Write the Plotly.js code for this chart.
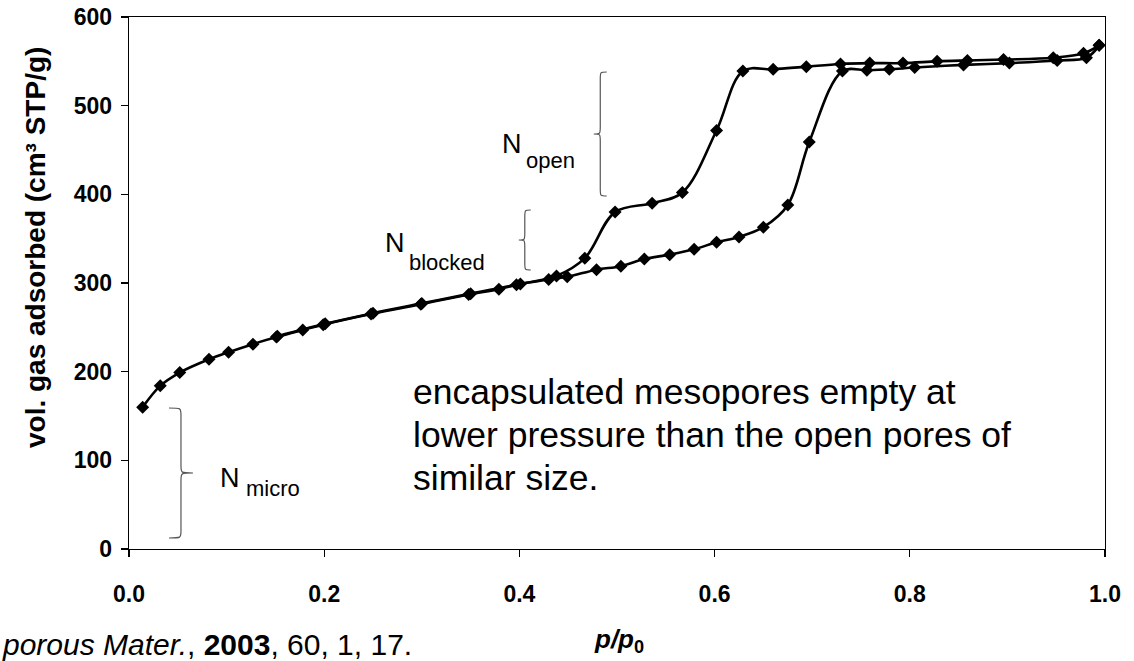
<!DOCTYPE html>
<html><head><meta charset="utf-8">
<script src="https://cdn.plot.ly/plotly-3.0.1.min.js"></script>
<style>html,body{margin:0;padding:0;background:#fff;}#chart{width:1134px;height:661px;}</style>
</head><body><div id="chart"></div>
<script>
// Adsorption branch (p/p0, cm3 STP/g)
const adsP = [0.014,0.032,0.052,0.082,0.102,0.127,0.151,0.178,0.199,0.248,0.299,0.348,0.379,0.397,0.430,0.449,0.479,0.504,0.528,0.554,0.579,0.602,0.625,0.650,0.675,0.697,0.731,0.756,0.779,0.805,0.855,0.902,0.951,0.981,0.994];
const adsV = [160,184,199,214,222,231,239,247,253,265,276,287,293,298,304,307,315,319,327,332,338,346,352,363,388,459,539,540,541,543,546,548,551,554,568];
// Desorption branch
const desP = [0.152,0.201,0.250,0.300,0.350,0.401,0.438,0.467,0.498,0.536,0.567,0.602,0.629,0.660,0.694,0.729,0.759,0.793,0.828,0.859,0.896,0.947,0.978,0.994];
const desV = [240,254,266,277,288,299,308,328,380,390,402,472,539,541,544,547,548,548,550,551,552,554,559,568];
// Axis ticks
const xTickVals = [0,0.2,0.4,0.6,0.8,1.0];
const xTickText = ['0.0','0.2','0.4','0.6','0.8','1.0'];
const yTickVals = [0,100,200,300,400,500,600];
// Texts
const noteLines = ['encapsulated mesopores empty at', 'lower pressure than the open pores of', 'similar size.'];

const FONT = 'Liberation Sans, Arial, Helvetica, sans-serif';
const W = 1134, H = 661, L = 129, R = 1105.5, T = 17, B = 549;
const px = v => (v - L) / (R - L);
const py = v => (B - v) / (B - T);

function brace(xEnd, xTip, yTop, yBot, yMid) {
  const xs = (xEnd + xTip) / 2, d = 7;
  const P = (x, y) => px(x).toFixed(5) + ',' + py(y).toFixed(5);
  return 'M' + P(xEnd, yTop) +
    ' C' + P(xs, yTop) + ' ' + P(xs, yTop) + ' ' + P(xs, yTop + d) +
    ' L' + P(xs, yMid - d) +
    ' C' + P(xs, yMid) + ' ' + P(xs, yMid) + ' ' + P(xTip, yMid) +
    ' C' + P(xs, yMid) + ' ' + P(xs, yMid) + ' ' + P(xs, yMid + d) +
    ' L' + P(xs, yBot - d) +
    ' C' + P(xs, yBot) + ' ' + P(xs, yBot) + ' ' + P(xEnd, yBot);
}
const braceLine = {color: '#555', width: 1.2};
const shapes = [
  {type: 'path', xref: 'paper', yref: 'paper', path: brace(607, 594, 72, 196, 134), line: braceLine},
  {type: 'path', xref: 'paper', yref: 'paper', path: brace(531, 519, 210, 270, 240), line: braceLine},
  {type: 'path', xref: 'paper', yref: 'paper', path: brace(169, 193, 408, 538, 473), line: braceLine}
];

function lbl(text, x, y, size, extra) {
  return Object.assign({text: text, xref: 'paper', yref: 'paper', x: px(x), y: py(y),
    xanchor: 'left', yanchor: 'middle', showarrow: false,
    font: {family: FONT, size: size, color: '#000'}}, extra || {});
}
const annotations = [
  lbl('N', 500, 143.5, 27), lbl('open', 524, 160, 22),
  lbl('N', 383, 242.5, 27), lbl('blocked', 407, 262, 22),
  lbl('N', 218, 477.5, 27), lbl('micro', 244, 488, 22),
  lbl(noteLines[0], 411, 392, 35.5),
  lbl(noteLines[1], 411, 435, 35.5),
  lbl(noteLines[2], 411, 478, 35.5),
  lbl('<b><i>p/p</i><sub>0</sub></b>', 592, 640, 26),
  lbl('<i>porous Mater.</i>, <b>2003</b>, 60, 1, 17.', 0, 644, 30),
  {text: '<b>vol. gas adsorbed (cm³ STP/g)</b>', xref: 'paper', yref: 'paper', x: px(35), y: py(248),
   xanchor: 'center', yanchor: 'middle', textangle: -90, showarrow: false,
   font: {family: FONT, size: 28, color: '#000'}}
];

const common = {mode: 'lines+markers', line: {color: '#000', width: 2.6, shape: 'spline', smoothing: 1},
  marker: {symbol: 'diamond', size: 10, color: '#000'}, hoverinfo: 'x+y', showlegend: false, cliponaxis: false};
const traces = [
  Object.assign({x: adsP, y: adsV, name: 'adsorption'}, common),
  Object.assign({x: desP, y: desV, name: 'desorption'}, common)
];

const axisCommon = {showgrid: false, zeroline: false, showline: true, mirror: true, linecolor: '#000', linewidth: 1.3,
  ticks: 'outside', ticklen: 7, tickwidth: 1.3, tickcolor: '#000',
  tickfont: {family: FONT, size: 23, color: '#000', weight: 'bold'}};
const layout = {
  width: W, height: H, paper_bgcolor: '#fff', plot_bgcolor: '#fff',
  margin: {l: L, r: W - R, t: T, b: H - B, pad: 0},
  xaxis: Object.assign({range: [0, 1], tickmode: 'array', tickvals: xTickVals, ticktext: xTickText, ticklabelstandoff: 17}, axisCommon),
  yaxis: Object.assign({range: [0, 600], tickmode: 'array', tickvals: yTickVals, ticklabelstandoff: 4}, axisCommon),
  shapes: shapes, annotations: annotations, showlegend: false
};
Plotly.newPlot('chart', traces, layout, {staticPlot: true, displayModeBar: false});
</script></body></html>
